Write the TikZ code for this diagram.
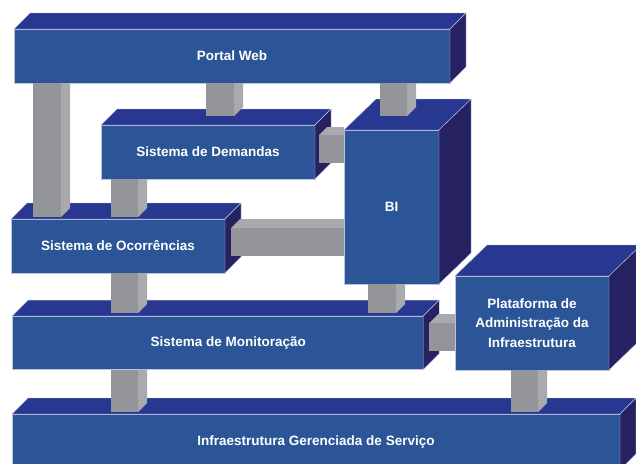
\documentclass[tikz,border=0pt]{standalone}
\usepackage{fontspec}
\setmainfont{Liberation Sans}
\usetikzlibrary{calc,positioning}
\definecolor{frontblue}{RGB}{43,85,151}
\definecolor{topblue}{RGB}{40,56,145}
\definecolor{sideblue}{RGB}{38,34,98}
\definecolor{edgeblue}{RGB}{190,195,225}
\definecolor{pilgray}{RGB}{147,149,152}
\definecolor{pillight}{RGB}{168,170,173}

\begin{document}
\begin{tikzpicture}[x=1pt,y=-1pt,
	lbl/.style={text=white,font=\bfseries\fontsize{13.5}{19.5}\selectfont,align=center},
	frontface/.style={draw=edgeblue,line width=0.4pt,fill=frontblue,
		inner sep=0pt,outer sep=0pt,lbl},
	topface/.style={draw=edgeblue,line width=0.4pt,fill=topblue},
	sideface/.style={draw=edgeblue,line width=0.4pt,fill=sideblue},
	pillar/.style={fill=pilgray},
	pillarlit/.style={fill=pillight}]
	\useasboundingbox (0,0) rectangle (636,463);
	% boxes
	\node[frontface,minimum width=436pt,minimum height=54pt] (portal) at (232,56) {Portal Web};
	\filldraw[topface] (portal.north west) -- ++(16,-16) -- ($(portal.north east)+(16,-16)$) -- (portal.north east) -- cycle;
	\filldraw[sideface] (portal.north east) -- ++(16,-16) -- ($(portal.south east)+(16,-16)$) -- (portal.south east) -- cycle;
	\node[frontface,minimum width=214pt,minimum height=54pt] (demandas) at (208,152) {Sistema de Demandas};
	\filldraw[topface] (demandas.north west) -- ++(16,-16) -- ($(demandas.north east)+(16,-16)$) -- (demandas.north east) -- cycle;
	\filldraw[sideface] (demandas.north east) -- ++(16,-16) -- ($(demandas.south east)+(16,-16)$) -- (demandas.south east) -- cycle;
	\node[frontface,minimum width=95pt,minimum height=154pt] (bi) at (391.5,207) {BI};
	\filldraw[topface] (bi.north west) -- ++(32,-31) -- ($(bi.north east)+(32,-31)$) -- (bi.north east) -- cycle;
	\filldraw[sideface] (bi.north east) -- ++(32,-31) -- ($(bi.south east)+(32,-31)$) -- (bi.south east) -- cycle;
	\node[frontface,minimum width=214pt,minimum height=54pt] (ocorr) at (118,246) {Sistema de Ocorrências};
	\filldraw[topface] (ocorr.north west) -- ++(16,-16) -- ($(ocorr.north east)+(16,-16)$) -- (ocorr.north east) -- cycle;
	\filldraw[sideface] (ocorr.north east) -- ++(16,-16) -- ($(ocorr.south east)+(16,-16)$) -- (ocorr.south east) -- cycle;
	\node[frontface,minimum width=411pt,minimum height=53.5pt,
		label={[lbl,xshift=10.5pt]center:Sistema de Monitoração}] (monit) at (217.7,342.8) {};
	\filldraw[topface] (monit.north west) -- ++(16,-16) -- ($(monit.north east)+(16,-16)$) -- (monit.north east) -- cycle;
	\filldraw[sideface] (monit.north east) -- ++(16,-16) -- ($(monit.south east)+(16,-16)$) -- (monit.south east) -- cycle;
	\node[frontface,minimum width=154pt,minimum height=94pt] (plat) at (532,323) {Plataforma de\\Administração da\\Infraestrutura};
	\filldraw[topface] (plat.north west) -- ++(32,-31) -- ($(plat.north east)+(32,-31)$) -- (plat.north east) -- cycle;
	\filldraw[sideface] (plat.north east) -- ++(32,-31) -- ($(plat.south east)+(32,-31)$) -- (plat.south east) -- cycle;
	\node[frontface,minimum width=608pt,minimum height=56pt] (infra) at (316,442) {Infraestrutura Gerenciada de Serviço};
	\filldraw[topface] (infra.north west) -- ++(16,-16) -- ($(infra.north east)+(16,-16)$) -- (infra.north east) -- cycle;
	\filldraw[sideface] (infra.north east) -- ++(16,-16) -- ($(infra.south east)+(16,-16)$) -- (infra.south east) -- cycle;
	% pillars
	\fill[pillar] (33,0 |- portal.south) rectangle ($(61,0 |- ocorr.north)+(0,-2)$);
	\fill[pillarlit] (61,0 |- portal.south) -- ++(9,0) -- ($(70,0 |- ocorr.north)+(0,-11)$) -- ($(61,0 |- ocorr.north)+(0,-2)$) -- cycle;
	\fill[pillar] (206,0 |- portal.south) rectangle ($(234,0 |- demandas.north)+(0,-9)$);
	\fill[pillarlit] (234,0 |- portal.south) -- ++(9,0) -- ($(243,0 |- demandas.north)+(0,-18)$) -- ($(234,0 |- demandas.north)+(0,-9)$) -- cycle;
	\fill[pillar] (380,0 |- portal.south) rectangle ($(407,0 |- bi.north)+(0,-14)$);
	\fill[pillarlit] (407,0 |- portal.south) -- ++(9,0) -- ($(416,0 |- bi.north)+(0,-23)$) -- ($(407,0 |- bi.north)+(0,-14)$) -- cycle;
	\fill[pillar] (111,0 |- demandas.south) rectangle ($(138,0 |- ocorr.north)+(0,-2)$);
	\fill[pillarlit] (138,0 |- demandas.south) -- ++(9,0) -- ($(147,0 |- ocorr.north)+(0,-11)$) -- ($(138,0 |- ocorr.north)+(0,-2)$) -- cycle;
	\fill[pillar] (111,0 |- ocorr.south) rectangle ($(138,0 |- monit.north)+(0,-3)$);
	\fill[pillarlit] (138,0 |- ocorr.south) -- ++(9,0) -- ($(147,0 |- monit.north)+(0,-12)$) -- ($(138,0 |- monit.north)+(0,-3)$) -- cycle;
	\fill[pillar] (368,0 |- bi.south) rectangle ($(396,0 |- monit.north)+(0,-3)$);
	\fill[pillarlit] (396,0 |- bi.south) -- ++(9,0) -- ($(405,0 |- monit.north)+(0,-12)$) -- ($(396,0 |- monit.north)+(0,-3)$) -- cycle;
	\fill[pillar] (111,0 |- monit.south) rectangle ($(138,0 |- infra.north)+(0,-2)$);
	\fill[pillarlit] (138,0 |- monit.south) -- ++(9,0) -- ($(147,0 |- infra.north)+(0,-11)$) -- ($(138,0 |- infra.north)+(0,-2)$) -- cycle;
	\fill[pillar] (511,0 |- plat.south) rectangle ($(538,0 |- infra.north)+(0,-2)$);
	\fill[pillarlit] (538,0 |- plat.south) -- ++(9,0) -- ($(547,0 |- infra.north)+(0,-11)$) -- ($(538,0 |- infra.north)+(0,-2)$) -- cycle;
	% side bars
	\fill[pillar] ($(demandas.north east)+(4,10)$) rectangle ($(bi.west |- demandas.north)+(0,38)$);
	\fill[pillarlit] ($(demandas.north east)+(4,10)$) -- ++(8,-8) -- ($(bi.west |- demandas.north)+(0,2)$) -- ++(0,8) -- cycle;
	\fill[pillar] ($(ocorr.north east)+(6,9)$) rectangle ($(bi.west |- ocorr.north)+(0,37)$);
	\fill[pillarlit] ($(ocorr.north east)+(6,9)$) -- ++(9,-9) -- (bi.west |- ocorr.north) -- ++(0,9) -- cycle;
	\fill[pillar] ($(monit.north east)+(6,7)$) rectangle ($(plat.west |- monit.north)+(0,35)$);
	\fill[pillarlit] ($(monit.north east)+(6,7)$) -- ++(9,-9) -- ($(plat.west |- monit.north)+(0,-2)$) -- ++(0,9) -- cycle;
\end{tikzpicture}
\end{document}
